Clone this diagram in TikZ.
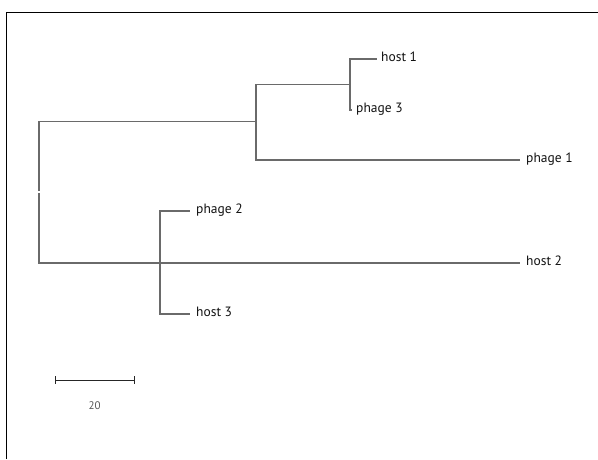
\documentclass[tikz,border=0pt]{standalone}
\usepackage{fontspec}
\setmainfont{PT Sans}
\definecolor{treegray}{HTML}{6A6A6A}
\definecolor{labelcol}{HTML}{111111}
\definecolor{scalelab}{HTML}{555555}
\tikzset{
  tree/.style={draw=treegray, line width=1.1pt},
  leaf/.style={anchor=west, inner sep=0pt, text=labelcol, font=\fontsize{13.5}{15}\selectfont, text height=0.5em, text depth=0pt},
  scalebar/.style={draw=black!85, line width=1pt},
  frame/.style={draw=black, line width=1.1pt}
}
\begin{document}
\begin{tikzpicture}[x=1pt,y=-1pt]
\useasboundingbox (0,0) rectangle (598,459);
\draw[frame] (6.5,459) -- (6.5,12.5) -- (598,12.5);
% leaves
\node[leaf] (host1) at (381,59) {host 1};
\node[leaf] (phage3) at (356,110) {phage 3};
\node[leaf] (phage1) at (526,160) {phage 1};
\node[leaf] (host2) at (526,263) {host 2};
\node[leaf] (phage2) at (196,211) {phage 2};
\node[leaf] (host3) at (196,314) {host 3};
% internal junctions
\coordinate (r) at (39,192);
\coordinate (u) at (256,121.5);
\coordinate (h) at (350,84.5);
\coordinate (p) at (160,262.5);
% branches
\draw[tree] ([yshift=1pt]r) |- (u);
\draw[tree] ([yshift=-1pt]r) |- ([xshift=-6pt]host2.west);
\draw[tree] (u) |- (h);
\draw[tree] (u) |- ([xshift=-6pt]phage1.west);
\draw[tree] (h) |- ([xshift=-4pt]host1.west);
\draw[tree] (h) |- ([xshift=-4pt]phage3.west);
\draw[tree] (p) |- ([xshift=-6pt]phage2.west);
\draw[tree] (p) |- ([xshift=-6pt]host3.west);
% scale bar
\coordinate (sa) at (55,380);
\coordinate (sb) at (134,380);
\draw[scalebar] (sa) -- (sb);
\draw[scalebar] ([yshift=4pt]sa) -- ([yshift=-4pt]sa);
\draw[scalebar] ([yshift=4pt]sb) -- ([yshift=-4pt]sb);
\node[text=scalelab, font=\fontsize{11}{12}\selectfont, inner sep=0pt] (slab) at (94.5,406) {20};
\end{tikzpicture}
\end{document}
